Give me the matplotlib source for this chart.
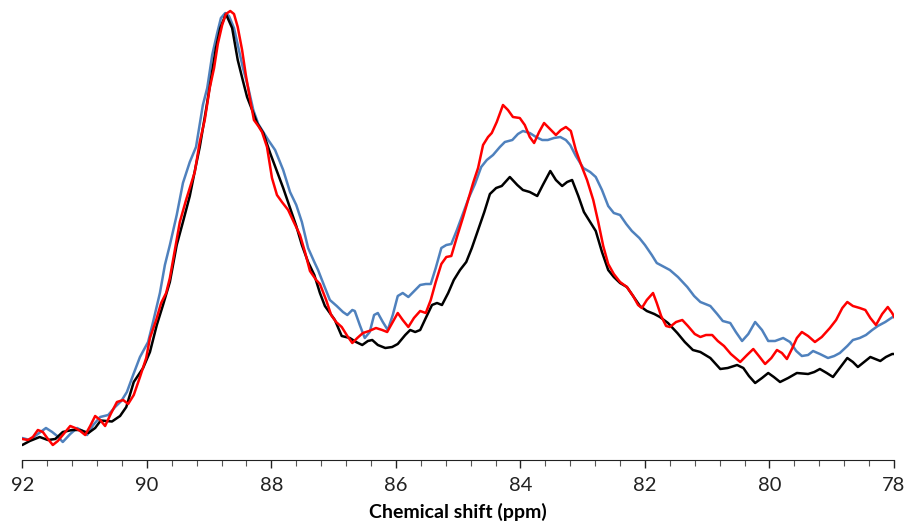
import matplotlib
matplotlib.use("Agg")
import matplotlib.pyplot as plt
from matplotlib.ticker import MultipleLocator

# black spectrum
black_ppm = [92.00, 91.88, 91.72, 91.59, 91.47, 91.35, 91.20, 91.07, 90.94, 90.83,
             90.74, 90.56, 90.43, 90.33, 90.21, 90.06, 89.95, 89.84, 89.74, 89.63,
             89.52, 89.42, 89.31, 89.21, 89.15, 89.05, 88.99, 88.89, 88.82, 88.73,
             88.63, 88.54, 88.46, 88.39, 88.29, 88.23, 88.13, 88.02, 87.93, 87.81,
             87.70, 87.60, 87.51, 87.41, 87.31, 87.22, 87.14, 87.06, 86.98, 86.87,
             86.74, 86.64, 86.54, 86.45, 86.38, 86.29, 86.17, 86.06, 85.97, 85.85,
             85.77, 85.69, 85.61, 85.52, 85.42, 85.34, 85.26, 85.16, 85.07, 84.97,
             84.87, 84.78, 84.68, 84.58, 84.49, 84.39, 84.30, 84.17, 84.05, 83.96,
             83.85, 83.73, 83.64, 83.52, 83.43, 83.33, 83.25, 83.17, 83.07, 82.98,
             82.88, 82.79, 82.69, 82.59, 82.50, 82.40, 82.29, 82.19, 82.08, 81.97,
             81.85, 81.76, 81.63, 81.48, 81.36, 81.23, 81.11, 80.95, 80.79, 80.67,
             80.52, 80.42, 80.33, 80.23, 80.12, 80.02, 79.93, 79.83, 79.70, 79.56,
             79.38, 79.28, 79.19, 79.08, 78.98, 78.87, 78.75, 78.66, 78.58, 78.48,
             78.38, 78.30, 78.22, 78.13, 78.03, 77.98]
black_int = [15, 19, 23, 20, 21, 28, 30, 30, 27, 32,
             39.5, 38.5, 44, 53, 78, 92, 108, 135, 155, 178,
             215, 238, 264, 295, 313, 350, 373, 412, 432, 446,
             432, 400, 380, 363, 347, 337, 327, 307, 292, 272,
             252, 234, 215, 198, 185, 167, 154, 147, 140, 124,
             122, 118, 115, 119, 120, 115, 112, 113, 116, 125,
             130, 128, 130, 142, 155, 157, 155, 167, 180, 190,
             198, 212, 230, 248, 266, 272, 274, 283, 275, 270,
             268, 264, 275, 289, 280, 274, 278, 280, 264, 248,
             238, 229, 208, 190, 183, 177, 173, 164, 154, 149,
             146, 143, 137, 127, 118, 110, 108, 102, 91, 92,
             95, 92, 84, 77, 82, 87, 83, 78, 82, 87,
             86, 88, 91, 87, 83, 92, 102, 98, 93, 98,
             103, 101, 99, 103, 106, 106]

# blue spectrum
blue_ppm = [92.00, 91.88, 91.75, 91.62, 91.52, 91.44, 91.35, 91.23, 91.12, 91.03,
            90.96, 90.86, 90.75, 90.62, 90.51, 90.41, 90.32, 90.22, 90.11, 89.98,
            89.90, 89.79, 89.71, 89.63, 89.52, 89.42, 89.31, 89.21, 89.10, 89.03,
            88.95, 88.87, 88.81, 88.74, 88.68, 88.60, 88.52, 88.46, 88.37, 88.29,
            88.21, 88.15, 88.05, 87.94, 87.81, 87.70, 87.60, 87.51, 87.41, 87.31,
            87.25, 87.15, 87.06, 86.95, 86.85, 86.78, 86.70, 86.66, 86.58, 86.50,
            86.42, 86.35, 86.29, 86.21, 86.13, 86.05, 85.97, 85.89, 85.80, 85.72,
            85.61, 85.52, 85.44, 85.36, 85.27, 85.19, 85.11, 85.02, 84.92, 84.83,
            84.73, 84.63, 84.54, 84.44, 84.33, 84.25, 84.13, 84.04, 83.96, 83.85,
            83.75, 83.65, 83.56, 83.46, 83.36, 83.27, 83.20, 83.11, 82.99, 82.88,
            82.79, 82.69, 82.59, 82.50, 82.40, 82.30, 82.21, 82.09, 82.00, 81.89,
            81.81, 81.69, 81.60, 81.47, 81.32, 81.21, 81.11, 80.95, 80.84, 80.75,
            80.63, 80.54, 80.44, 80.34, 80.23, 80.12, 80.02, 79.91, 79.78, 79.67,
            79.57, 79.48, 79.38, 79.30, 79.19, 79.06, 78.96, 78.87, 78.75, 78.66,
            78.55, 78.45, 78.35, 78.26, 78.14, 78.02]
blue_int = [22, 20, 26, 32, 28, 24, 18, 26, 32, 29,
            25, 35, 43, 45, 53, 59, 68, 85, 103, 118,
            138, 167, 195, 215, 245, 277, 298, 313, 355, 372,
            405, 427, 442, 447, 444, 432, 410, 393, 372, 350,
            336, 330, 320, 310, 290, 268, 255, 238, 212, 198,
            190, 174, 160, 154, 148, 145, 150, 149, 135, 122,
            128, 145, 147, 138, 130, 145, 164, 167, 163, 168,
            175, 176, 176, 192, 212, 215, 216, 230, 247, 262,
            276, 293, 300, 305, 313, 318, 320, 326, 329, 327,
            323, 320, 320, 322, 323, 320, 315, 304, 292, 288,
            283, 270, 254, 247, 245, 236, 229, 222, 215, 205,
            197, 193, 190, 183, 173, 164, 158, 154, 146, 139,
            137, 128, 119, 126, 138, 130, 119, 119, 122, 118,
            109, 104, 105, 109, 106, 102, 104, 107, 114, 120,
            122, 125, 130, 134, 138, 143]

# red spectrum
red_ppm = [92.00, 91.91, 91.83, 91.75, 91.67, 91.60, 91.51, 91.43, 91.35, 91.23,
           91.15, 91.07, 90.99, 90.91, 90.83, 90.75, 90.67, 90.58, 90.48, 90.38,
           90.30, 90.21, 90.11, 90.01, 89.95, 89.85, 89.77, 89.69, 89.63, 89.55,
           89.47, 89.37, 89.31, 89.23, 89.15, 89.07, 88.99, 88.92, 88.86, 88.79,
           88.73, 88.66, 88.60, 88.54, 88.47, 88.41, 88.34, 88.28, 88.21, 88.15,
           88.07, 87.99, 87.91, 87.83, 87.73, 87.64, 87.54, 87.46, 87.38, 87.28,
           87.22, 87.12, 87.04, 86.96, 86.87, 86.78, 86.70, 86.62, 86.53, 86.43,
           86.32, 86.22, 86.14, 86.06, 85.97, 85.89, 85.80, 85.71, 85.61, 85.52,
           85.44, 85.36, 85.27, 85.19, 85.11, 85.02, 84.92, 84.84, 84.76, 84.68,
           84.60, 84.52, 84.46, 84.38, 84.28, 84.20, 84.12, 84.01, 83.93, 83.85,
           83.78, 83.70, 83.62, 83.51, 83.43, 83.35, 83.27, 83.19, 83.11, 83.03,
           82.93, 82.83, 82.75, 82.67, 82.59, 82.50, 82.40, 82.29, 82.19, 82.11,
           82.05, 81.97, 81.87, 81.81, 81.74, 81.66, 81.60, 81.50, 81.40, 81.31,
           81.20, 81.11, 81.02, 80.92, 80.83, 80.73, 80.62, 80.47, 80.36, 80.26,
           80.17, 80.07, 79.97, 79.88, 79.80, 79.72, 79.64, 79.56, 79.48, 79.38,
           79.27, 79.16, 79.03, 78.93, 78.83, 78.75, 78.66, 78.55, 78.46, 78.38,
           78.29, 78.19, 78.10, 78.03, 77.97]
red_int = [21, 20, 23, 30, 28, 22, 15, 19, 25, 34,
           32, 29, 25, 34, 44, 40, 34, 46, 58, 60,
           56, 65, 83, 102, 122, 140, 157, 167, 182, 210,
           238, 260, 272, 288, 318, 340, 372, 392, 416, 435,
           446, 449, 446, 433, 410, 385, 360, 340, 334, 328,
           313, 282, 265, 258, 250, 238, 225, 208, 189, 180,
           176, 160, 145, 138, 133, 124, 117, 122, 127, 129,
           132, 130, 128, 137, 147, 140, 133, 142, 149, 147,
           160, 178, 196, 203, 204, 223, 243, 260, 277, 292,
           315, 323, 327, 338, 355, 350, 343, 342, 335, 323,
           317, 328, 337, 330, 325, 330, 333, 329, 310, 296,
           280, 260, 238, 214, 196, 186, 178, 173, 164, 155,
           152, 160, 167, 157, 144, 134, 133, 138, 140, 134,
           126, 123, 125, 125, 119, 114, 106, 98, 105, 111,
           104, 96, 102, 110, 107, 101, 111, 122, 128, 124,
           118, 123, 132, 140, 152, 158, 154, 152, 150, 142,
           135, 146, 153, 147, 140]

fig = plt.figure(figsize=(9.16, 5.22), dpi=100)
ax = fig.add_axes([22.3 / 916, (522 - 460) / 522, (894 - 22.3) / 916, 460 / 522])

style = dict(lw=1.8, solid_joinstyle="round", solid_capstyle="round")
ax.plot(blue_ppm, blue_int, color="#4F81BD", **style)
ax.plot(black_ppm, black_int, color="black", **style)
ax.plot(red_ppm, red_int, color="#FF0000", **style)

ax.set_xlim(92, 78)
ax.set_ylim(0, 460)
ax.xaxis.set_major_locator(MultipleLocator(2))
ax.xaxis.set_minor_locator(MultipleLocator(0.4))
ax.tick_params(axis="x", which="major", direction="out", length=6, width=1,
               labelsize=14.5, pad=6, colors="#222222")
ax.tick_params(axis="x", which="minor", direction="out", length=4, width=0.8,
               colors="#555555")
for lab in ax.get_xticklabels():
    lab.set_fontfamily("Lato")
ax.set_yticks([])
for s in ["top", "right", "left"]:
    ax.spines[s].set_visible(False)
ax.spines["bottom"].set_color("#222222")
ax.set_xlabel("Chemical shift (ppm)", fontsize=14, fontweight="bold",
              fontfamily="Lato", labelpad=7)

fig.savefig("out.png", dpi=100)
